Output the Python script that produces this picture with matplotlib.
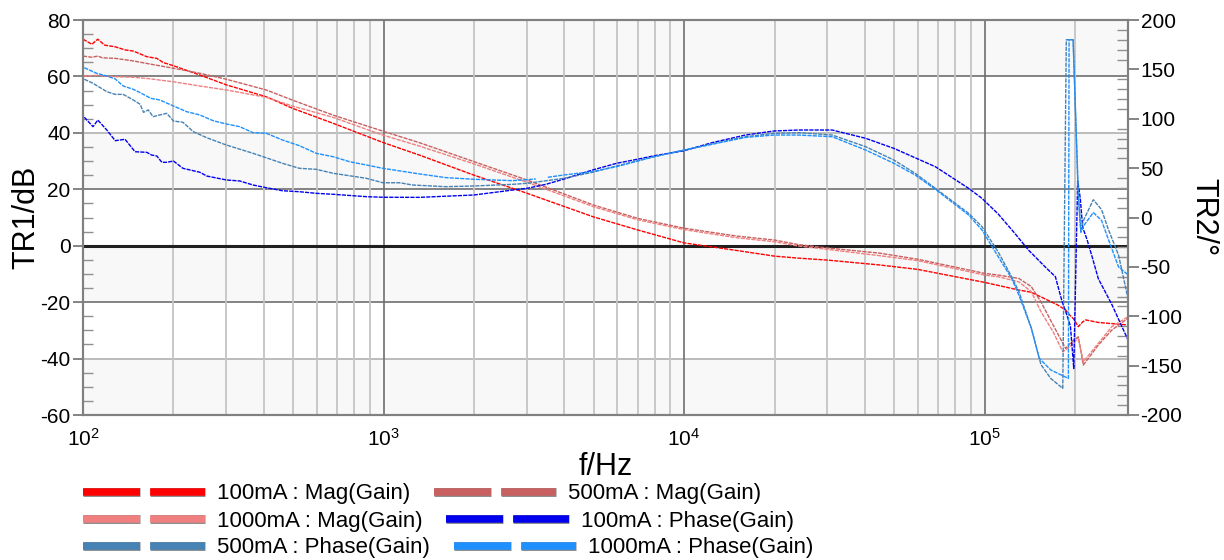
import numpy as np
import matplotlib
matplotlib.use("Agg")
import matplotlib.pyplot as plt
from matplotlib.lines import Line2D
from matplotlib.ticker import MultipleLocator, LogLocator, NullFormatter
import matplotlib.patheffects as pe

plt.rcParams["font.family"] = ["Liberation Sans", "DejaVu Sans"]
plt.rcParams["mathtext.fontset"] = "custom"
plt.rcParams["mathtext.rm"] = "Liberation Sans"
plt.rcParams["mathtext.default"] = "regular"
plt.rcParams["axes.unicode_minus"] = False

# ---- magnitude (TR1, dB) ----
f_mag_100 = [100, 107, 112, 118, 128, 138, 147, 163, 176, 185, 200, 245, 300, 407, 498, 679,
             995, 1318, 2000, 3000, 5000, 7000, 10000, 15000, 20000, 24000, 30000, 44500,
             60000, 100000, 130000, 143000, 160000, 175000, 186000, 192000, 198000, 205000,
             212000, 217000, 239000, 300000]
mag_100 = [73.2, 71.4, 73.2, 71.1, 70.5, 69.4, 69.0, 67.0, 66.4, 64.9, 63.8, 60.5, 57.0, 52.8,
           48.7, 43.4, 36.6, 32.1, 25.0, 18.6, 10.2, 5.6, 1.0, -1.7, -3.7, -4.4, -5.1, -6.8,
           -8.4, -13.0, -15.7, -16.5, -19.0, -21.0, -22.8, -24.6, -26.0, -28.7, -27.0, -26.3,
           -27.2, -28.1]

f_mag_500 = [100, 107, 112, 116, 128, 147, 163, 200, 245, 300, 407, 498, 679, 995, 1318, 2000,
             3000, 5000, 7000, 10000, 15000, 20000, 24000, 30000, 44500, 60000, 100000, 111000,
             130000, 143000, 154000, 169000, 186000, 195000, 205000, 213000, 239000, 265000,
             300000]
mag_500 = [67.2, 66.8, 67.2, 66.6, 66.4, 65.5, 64.6, 62.9, 61.1, 59.0, 55.2, 51.6, 46.3, 40.6,
           36.5, 29.8, 23.3, 14.4, 9.7, 6.2, 3.4, 2.0, 0.4, -0.8, -2.6, -4.8, -9.8, -10.4,
           -11.6, -14.5, -19.9, -28.1, -36.4, -34.0, -32.3, -42.3, -35.2, -29.9, -25.7]

f_mag_1000 = [100, 112, 128, 147, 163, 200, 245, 300, 407, 498, 679, 995, 1318, 2000, 3000,
              5000, 7000, 10000, 15000, 20000, 24000, 30000, 44500, 60000, 100000, 111000,
              130000, 143000, 154000, 169000, 182000, 192000, 205000, 213000, 239000, 265000,
              300000]
mag_1000 = [60.1, 60.4, 59.9, 59.7, 59.3, 58.1, 56.6, 55.2, 52.6, 49.5, 45.5, 39.2, 35.3, 29.0,
            22.5, 13.8, 9.2, 5.7, 2.8, 1.4, -0.1, -1.3, -3.5, -5.3, -10.4, -11.0, -12.8, -16.3,
            -23.4, -30.5, -37.6, -35.8, -32.8, -41.1, -34.6, -28.7, -25.2]

# ---- phase (TR2, degrees) ----
f_ph_100 = [101, 108, 112, 120, 128, 138, 149, 163, 169, 176, 183, 190, 200, 215, 245, 258,
            300, 332, 368, 407, 461, 525, 597, 679, 876, 995, 1318, 2000, 2690, 3000, 3470,
            3990, 4960, 5970, 7000, 7950, 10000, 12400, 16000, 19900, 24100, 31100, 40200,
            49900, 68600, 88500, 98000, 111000, 126000, 140000, 159000, 172000, 181000,
            186000, 193000, 198000, 204000, 208000, 212000, 219000, 228000, 239000, 265000,
            300000]
ph_100 = [101.5, 92.0, 98.7, 88.6, 77.8, 79.2, 66.6, 66.0, 63.3, 62.3, 55.9, 55.9, 57.2, 49.8,
          45.8, 42.0, 38.0, 37.0, 32.9, 30.2, 27.1, 26.1, 24.5, 23.5, 21.1, 20.5, 20.4, 22.8,
          27.8, 29.5, 33.6, 39.0, 48.1, 54.9, 59.0, 62.5, 67.6, 75.8, 83.5, 87.6, 88.6, 88.6,
          80.2, 70.0, 51.4, 29.5, 19.4, 3.5, -16.0, -33.0, -50.0, -60.0, -85.0, -95.0,
          -110.0, -153.0, 37.0, 20.0, -10.0, -22.0, -40.0, -62.0, -88.0, -124.0]

f_ph_500 = [101, 108, 120, 128, 136, 147, 155, 159, 165, 171, 180, 190, 200, 215, 233, 258,
            300, 368, 461, 525, 597, 679, 876, 995, 1130, 1250, 1610, 2000, 2690, 3000, 3990,
            4960, 5970, 7950, 10000, 16000, 19900, 24100, 31100, 40200, 49900, 58700, 68600,
            88500, 98000, 111000, 123000, 130000, 143000, 154000, 166000, 182000, 187000,
            197000, 205000, 209000, 214000, 230000, 245000, 258000, 279000, 300000]
ph_500 = [140.0, 135.9, 127.4, 124.7, 124.7, 119.0, 114.6, 106.5, 108.9, 102.1, 103.8, 105.5,
          97.7, 96.4, 86.9, 80.8, 73.4, 65.0, 54.9, 49.8, 48.8, 44.8, 39.7, 35.2, 35.2, 32.9,
          31.2, 31.9, 33.6, 34.6, 39.7, 45.8, 52.2, 61.6, 68.3, 81.8, 85.2, 85.9, 83.5, 71.7,
          58.2, 44.8, 29.5, 4.2, -9.3, -35.0, -60.0, -75.0, -112.0, -149.0, -163.0, -173.0,
          180.0, 180.0, 25.0, -12.0, -2.0, 18.0, 8.0, -12.0, -38.0, -82.0]

f_ph_1000 = [101, 111, 120, 128, 136, 147, 155, 168, 180, 200, 221, 245, 271, 300, 332, 368,
             407, 461, 525, 597, 679, 771, 876, 995, 1318, 1610, 2000, 2690, 3210, 3360, 3520,
             3990, 4960, 5970, 7950, 10000, 16000, 19900, 24100, 31100, 40200, 49900, 58700,
             68600, 88500, 98000, 111000, 123000, 130000, 143000, 152000, 166000, 190000,
             191000, 197000, 205000, 209000, 214000, 230000, 245000, 258000, 279000, 300000]
ph_1000 = [151.7, 146.0, 143.3, 140.3, 133.2, 129.8, 126.4, 120.7, 119.0, 112.9, 107.2, 103.8,
           98.0, 94.7, 92.0, 85.9, 85.3, 78.5, 72.7, 65.0, 61.6, 56.5, 53.2, 49.8, 44.1, 40.4,
           38.7, 37.3, 39.0, np.nan, 40.7, 43.1, 46.5, 51.5, 61.6, 68.3, 81.1, 83.5, 83.5,
           81.8, 68.3, 54.9, 43.1, 28.5, 2.5, -12.7, -39.7, -61.6, -78.5, -112.0, -142.6,
           -154.4, -163.0, 180.0, 180.0, 20.0, -15.0, -8.0, 5.0, -3.0, -22.0, -50.0, -58.0]

labels = ["100mA : Mag(Gain)", "500mA : Mag(Gain)", "1000mA : Mag(Gain)",
          "100mA : Phase(Gain)", "500mA : Phase(Gain)", "1000mA : Phase(Gain)"]
colors = ["#ff0000", "#c86060", "#f08080", "#0000ee", "#4682b4", "#1e90ff"]

fig = plt.figure(figsize=(12.24, 5.6), dpi=100)
ax = fig.add_axes([83 / 1224, 1 - 415 / 560, (1128 - 83) / 1224, 395 / 560])
ax2 = ax.twinx()

ax.set_xscale("log")
ax.set_xlim(100, 3e5)
ax.set_ylim(-60, 80)
ax2.set_ylim(-200, 200)

# alternating bands and grid
for lo in range(-60, 80, 20):
    if (lo // 20) % 2 == 1:
        ax.axhspan(lo, lo + 20, color="#f8f8f8", zorder=0, lw=0)
for lv in range(-40, 80, 20):
    if lv == 0:
        continue
    c = "#b0b0b0" if abs(lv) == 40 else "#6e6e6e"
    ax.axhline(lv, color=c, lw=1.2, zorder=1)
for dec in [100, 1000, 10000, 100000]:
    for m in range(2, 10):
        if dec * m < 3e5:
            ax.axvline(dec * m, color="#c4c4c4", lw=1.3, zorder=1)
    if dec > 100:
        ax.axvline(dec, color="#6e6e6e", lw=1.2, zorder=1)

ls = (0, (3, 0.8))
ax.plot(f_mag_100, mag_100, color=colors[0], lw=1.0, ls=ls, zorder=3)
ax.plot(f_mag_500, mag_500, color=colors[1], lw=1.0, ls=ls, zorder=3)
ax.plot(f_mag_1000, mag_1000, color=colors[2], lw=1.0, ls=ls, zorder=3)
ax.axhline(0, color="#202020", lw=2.2, zorder=2)
ax2.plot(f_ph_100, ph_100, color=colors[3], lw=1.0, ls=ls)
ax2.plot(f_ph_500, ph_500, color=colors[4], lw=1.0, ls=ls)
ax2.plot(f_ph_1000, ph_1000, color=colors[5], lw=1.0, ls=ls)

# ticks
ax.xaxis.set_major_locator(LogLocator(base=10, numticks=10))
ax.xaxis.set_minor_locator(LogLocator(base=10, subs=np.arange(2, 10), numticks=20))
ax.xaxis.set_minor_formatter(NullFormatter())
ax.tick_params(axis="x", which="both", length=0, pad=9, labelsize=15)
ax.yaxis.set_major_locator(MultipleLocator(20))
ax.yaxis.set_minor_locator(MultipleLocator(5))
ax.tick_params(axis="y", which="major", direction="out", length=7, width=1.2,
               color="#707070", labelsize=15, pad=2)
ax.tick_params(axis="y", which="minor", direction="in", length=7, width=1.0, color="#909090")
ax2.yaxis.set_major_locator(MultipleLocator(50))
ax2.yaxis.set_minor_locator(MultipleLocator(10))
ax2.tick_params(axis="y", which="major", direction="out", length=8, width=1.2,
                color="#707070", labelsize=15, pad=1)
ax2.tick_params(axis="y", which="minor", direction="in", length=8, width=1.0, color="#909090")

for a in (ax, ax2):
    for s in a.spines.values():
        s.set_color("#808080")
        s.set_linewidth(1.5)

ax.set_xlabel("f/Hz", fontsize=22, labelpad=2)
ax.set_ylabel("TR1/dB", fontsize=22, labelpad=-1)
ax2.set_ylabel("TR2/°", fontsize=22, rotation=270, labelpad=26)

# legend: three rows, two entries each
handles = []
for c in colors:
    h = Line2D([], [], color=c, lw=5.4, dashes=(7.6, 1.35), dash_capstyle="butt",
               path_effects=[pe.Stroke(linewidth=6.4, foreground="#8a8a8a"), pe.Normal()])
    handles.append(h)
rows = [(0, 1, 494), (2, 3, 521), (4, 5, 548)]
for i, j, yc in rows:
    fig.legend([handles[i], handles[j]], [labels[i], labels[j]], ncol=2, loc="center left",
               bbox_to_anchor=(83 / 1224, 1 - yc / 560), frameon=False, borderpad=0,
               borderaxespad=0, handlelength=5.5, handletextpad=0.55, columnspacing=1.05,
               fontsize=16)

fig.savefig("out.png", dpi=100)
